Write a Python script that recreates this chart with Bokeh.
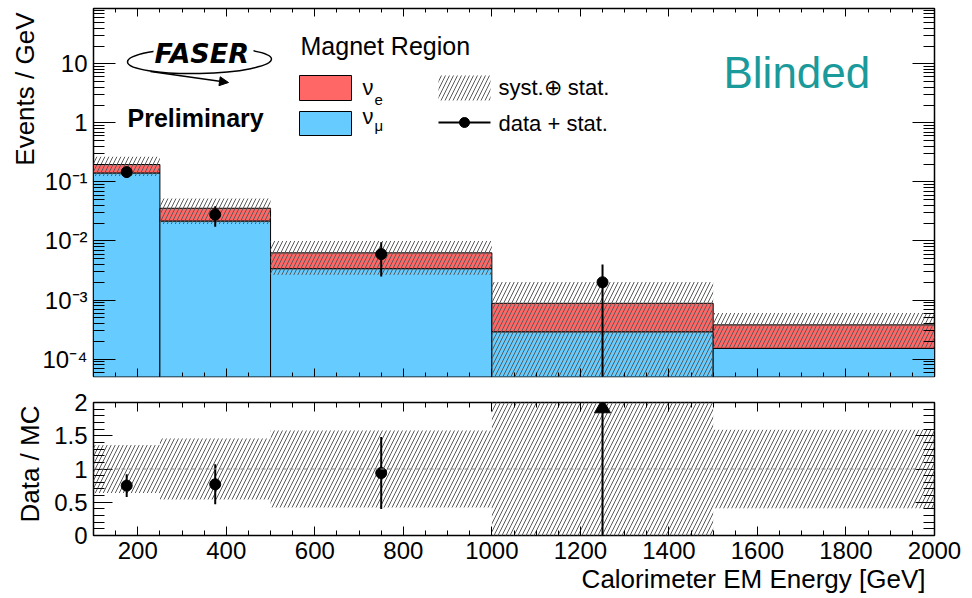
import math
from bokeh.plotting import figure
from bokeh.models import (Range1d, LinearAxis, LogAxis, FixedTicker, SingleIntervalTicker,
                          CustomJSTickFormatter, Label, Span, Arrow, NormalHead, Title)
from bokeh.layouts import column
from bokeh.embed import file_html
from bokeh.resources import INLINE

# ---------------- data ----------------
bin_lo = [100, 250, 500, 1000, 1500]
bin_hi = [250, 500, 1000, 1500, 2000]
nu_mu = [0.142, 0.0218, 0.0034, 0.00029, 0.000152]   # Events / GeV
nu_e = [0.055, 0.0140, 0.0029, 0.00059, 0.000228]    # Events / GeV (stacked on nu_mu)
syst_rel = [0.36, 0.46, 0.58, 1.30, 0.59]            # relative syst.(+)stat. uncertainty
data_x = [175, 375, 750, 1250]
data_y = [0.147, 0.028, 0.0060, 0.0020]
data_err = [0.031, 0.0106, 0.0035, 0.0020]
ratio_y = [0.75, 0.77, 0.94, 2.27]
ratio_err = [0.17, 0.30, 0.54, 2.27]
y_ticks_top = [1e-4, 1e-3, 1e-2, 1e-1, 1, 10]
y_ticks_ratio = [0, 0.5, 1, 1.5, 2]

RED = "#ff6666"
BLUE = "#66ccff"
HATCH = "#5a5a5a"
HSCALE = 8
FONT = "Liberation Sans"

XMIN, XMAX = 100, 2000
YMIN, YMAX = 5.07e-5, 86.5
RMIN, RMAX = 0.0, 2.0
FLOOR = 1e-7

# page-pixel geometry of the frames (for placing decorations)
FX0, FX1 = 93.0, 934.0
FY0, FY1 = 8.0, 376.0
GY0, GY1 = 402.0, 535.0
LT, LB = math.log10(YMAX), math.log10(YMIN)


def dx(px):
    return XMIN + (px - FX0) / (FX1 - FX0) * (XMAX - XMIN)


def dyt(py):
    return 10 ** (LT - (py - FY0) / (FY1 - FY0) * (LT - LB))


def dyb(py):
    return RMAX - (py - GY0) / (GY1 - GY0) * (RMAX - RMIN)


blank_fmt = CustomJSTickFormatter(code="return '';")


def style_axis(ax, major_in, minor_in, labels):
    ax.major_tick_in = major_in
    ax.major_tick_out = 0
    ax.minor_tick_in = minor_in
    ax.minor_tick_out = 0
    ax.axis_line_color = None
    ax.major_tick_line_color = "black"
    ax.minor_tick_line_color = "black"
    ax.major_tick_line_width = 1
    ax.minor_tick_line_width = 1
    if labels:
        ax.major_label_text_font = FONT
        ax.major_label_text_font_size = "24px"
        ax.major_label_text_color = "black"
        ax.major_label_standoff = 6
    else:
        ax.formatter = blank_fmt
        ax.major_label_text_font_size = "1px"
        ax.major_label_standoff = 0


def title(text, align, standoff=0, offset=0):
    return Title(text=text, align=align, text_font=FONT, text_font_size="26px",
                 text_font_style="normal", text_color="black", standoff=standoff, offset=offset)


def label(fig, px, baseline_py, text, size, style="normal", color="black", font=FONT):
    # text is anchored by its box bottom; shift by the descent so the baseline lands on baseline_py
    fs = float(size.replace("px", ""))
    fig.add_layout(Label(x=dx(px), y=dyt(baseline_py + 0.21 * fs), text=text, text_font=font,
                         text_font_style=style, text_font_size=size, text_color=color,
                         text_baseline="bottom"))


# ---------------- top panel ----------------
p1 = figure(width=972, height=389, x_range=Range1d(XMIN, XMAX), y_range=Range1d(YMIN, YMAX),
            y_axis_type="log", x_axis_location=None, y_axis_location=None,
            output_backend="svg", toolbar_location=None,
            min_border_left=93, min_border_right=38, min_border_top=8, min_border_bottom=13)
p1.grid.visible = False
p1.outline_line_color = "black"
p1.outline_line_width = 1.5
p1.background_fill_color = "white"
p1.border_fill_color = "white"

minor_log = [k * 10.0 ** e for e in range(-5, 2) for k in range(2, 10)]
sup_fmt = CustomJSTickFormatter(code="""
const e = Math.round(Math.log10(tick));
if (e == 0) { return "1"; }
if (e == 1) { return "10"; }
const sup = {"-": "\u207b", "0": "\u2070", "1": "\u00b9", "2": "\u00b2", "3": "\u00b3",
             "4": "\u2074", "5": "\u2075", "6": "\u2076", "7": "\u2077", "8": "\u2078", "9": "\u2079"};
return "10" + String(e).split("").map(c => sup[c]).join("");
""")

for loc, lab in (("left", True), ("right", False)):
    ax = LogAxis(ticker=FixedTicker(ticks=y_ticks_top, minor_ticks=minor_log))
    style_axis(ax, 22, 11, lab)
    if lab:
        ax.formatter = sup_fmt
    p1.add_layout(ax, loc)
for loc in ("below", "above"):
    ax = LinearAxis(ticker=SingleIntervalTicker(interval=200, num_minor_ticks=4))
    style_axis(ax, 8, 4, False)
    p1.add_layout(ax, loc)
p1.add_layout(title("Events / GeV", "right", standoff=0, offset=4), "left")

total = [a + b for a, b in zip(nu_mu, nu_e)]
p1.quad(left=bin_lo, right=bin_hi, bottom=[FLOOR] * len(bin_lo), top=nu_mu,
        fill_color=BLUE, line_color="black", line_width=1)
p1.quad(left=bin_lo, right=bin_hi, bottom=nu_mu, top=total,
        fill_color=RED, line_color="black", line_width=1)
band_lo = [max(t * (1 - r), FLOOR) for t, r in zip(total, syst_rel)]
band_hi = [t * (1 + r) for t, r in zip(total, syst_rel)]
p1.quad(left=bin_lo, right=bin_hi, bottom=band_lo, top=band_hi,
        fill_color=None, line_color=None, hatch_pattern="/", hatch_color=HATCH,
        hatch_scale=HSCALE, hatch_weight=1)

p1.segment(x0=data_x, x1=data_x, y0=[max(v - e, FLOOR) for v, e in zip(data_y, data_err)],
           y1=[v + e for v, e in zip(data_y, data_err)], line_color="black", line_width=2)
p1.scatter(x=data_x, y=data_y, size=11, marker="circle", fill_color="black", line_color="black")

# ----- logo, texts, legend -----
p1.ellipse(x=[dx(199)], y=[dyt(60)], width=[144], height=[26], width_units="screen",
           height_units="screen", angle=0.02, fill_color=None, line_color="black", line_width=1.5)
p1.rect(x=[dx(203)], y=[dyt(52)], width=[100], height=[20], width_units="screen",
        height_units="screen", fill_color="white", line_color=None)
p1.add_layout(Arrow(end=NormalHead(size=9, fill_color="black", line_color="black"),
                    x_start=dx(150), y_start=dyt(71), x_end=dx(228), y_end=dyt(82),
                    line_width=1.5, line_color="black"))
label(p1, 154, 63, "FASER", "27px", style="bold italic", font="DejaVu Sans")
label(p1, 127, 126, "Preliminary", "25px", style="bold")
label(p1, 723, 87, "Blinded", "44px", color="#1a9a9a")
label(p1, 300, 54, "Magnet Region", "25px")

# legend boxes
p1.quad(left=[dx(299)], right=[dx(351)], top=[dyt(75)], bottom=[dyt(100)],
        fill_color=RED, line_color="black", line_width=1)
p1.quad(left=[dx(299)], right=[dx(351)], top=[dyt(111)], bottom=[dyt(135)],
        fill_color=BLUE, line_color="black", line_width=1)
p1.quad(left=[dx(438)], right=[dx(490)], top=[dyt(75)], bottom=[dyt(100)],
        fill_color=None, line_color=None, hatch_pattern="/", hatch_color=HATCH,
        hatch_scale=HSCALE, hatch_weight=1)
p1.segment(x0=[dx(438)], x1=[dx(490)], y0=[dyt(122)], y1=[dyt(122)], line_color="black", line_width=2)
p1.scatter(x=[dx(464)], y=[dyt(122)], size=10, marker="circle", fill_color="black", line_color="black")

label(p1, 362, 95, "\u03bd", "22px")
label(p1, 374, 101, "e", "15px")
label(p1, 362, 124, "\u03bd", "22px")
label(p1, 374, 130, "\u03bc", "15px")
label(p1, 498, 95, "syst.\u2295 stat.", "22px")
label(p1, 498, 131, "data + stat.", "22px")

# ---------------- ratio panel ----------------
p2 = figure(width=972, height=208, x_range=p1.x_range, y_range=Range1d(RMIN, RMAX),
            x_axis_location=None, y_axis_location=None,
            output_backend="svg", toolbar_location=None,
            min_border_left=93, min_border_right=38, min_border_top=13, min_border_bottom=62)
p2.grid.visible = False
p2.outline_line_color = "black"
p2.outline_line_width = 1.5
p2.background_fill_color = "white"
p2.border_fill_color = "white"

minor_ratio = [k / 10 for k in range(1, 20) if k % 5]
for loc, lab in (("left", True), ("right", False)):
    ax = LinearAxis(ticker=FixedTicker(ticks=y_ticks_ratio, minor_ticks=minor_ratio))
    style_axis(ax, 19, 11, lab)
    if lab:
        ax.formatter = CustomJSTickFormatter(code="return String(tick);")
    p2.add_layout(ax, loc)
for loc, lab in (("below", True), ("above", False)):
    ax = LinearAxis(ticker=SingleIntervalTicker(interval=200, num_minor_ticks=4))
    style_axis(ax, 9, 5, lab)
    p2.add_layout(ax, loc)
p2.add_layout(title("Data / MC", "right", standoff=14, offset=3), "left")
p2.add_layout(title("Calorimeter EM Energy [GeV]", "right", standoff=0, offset=9), "below")

p2.quad(left=bin_lo, right=bin_hi, bottom=[1 - r for r in syst_rel], top=[1 + r for r in syst_rel],
        fill_color=None, line_color=None, hatch_pattern="/", hatch_color=HATCH,
        hatch_scale=HSCALE, hatch_weight=1)
p2.add_layout(Span(location=1, dimension="width", line_color="#888888", line_width=1,
                   line_dash="4 3"))

in_x = [x for x, r in zip(data_x, ratio_y) if r <= RMAX]
in_y = [r for r in ratio_y if r <= RMAX]
p2.segment(x0=data_x, x1=data_x, y0=[max(r - e, RMIN) for r, e in zip(ratio_y, ratio_err)],
           y1=[min(r + e, RMAX) for r, e in zip(ratio_y, ratio_err)], line_color="black", line_width=2)
p2.scatter(x=in_x, y=in_y, size=11, marker="circle", fill_color="black", line_color="black")
out_x = [x for x, r in zip(data_x, ratio_y) if r > RMAX]
p2.scatter(x=out_x, y=[RMAX - 0.085] * len(out_x), size=16, marker="triangle",
           fill_color="black", line_color="black")

layout = column(p1, p2)
open("out.html", "w", encoding="utf-8").write(file_html(layout, INLINE))
